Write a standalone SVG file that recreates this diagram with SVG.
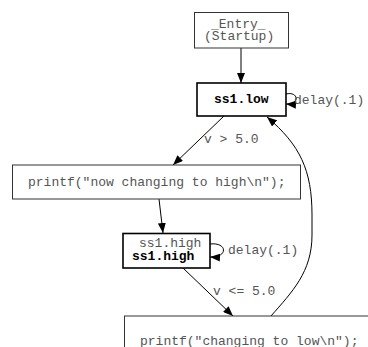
<svg xmlns="http://www.w3.org/2000/svg" width="368" height="347" viewBox="0 0 368 347">
<defs>
<marker id="ah" markerWidth="10" markerHeight="8" refX="10" refY="4" orient="auto" markerUnits="userSpaceOnUse"><path d="M0,0 L10,4 L0,8 z" fill="#000"/></marker>
<style>
.t{font-family:"Liberation Mono","Courier New",monospace;font-size:13px;fill:#555}
.b{font-family:"Liberation Mono","Courier New",monospace;font-size:13px;font-weight:bold;fill:#000}
.box{fill:#fff;stroke:#333;stroke-width:1}
.st{fill:#fff;stroke:#000;stroke-width:1.6}
.e{fill:none;stroke:#000;stroke-width:1;marker-end:url(#ah)}
</style>
</defs>
<rect width="368" height="347" fill="#fff"/>
<g id="edges">
<path class="e" d="M241,48 L241,83"/>
<path class="e" d="M224,116 L173,165"/>
<path class="e" d="M159,199 L163,233"/>
<path class="e" d="M183,268 L233,316"/>
<path class="e" d="M271,316 C292,292 312,272 312,235 L312,215 C312,170 300,145 267,117"/>
<path class="e" d="M286,94 C299,91 300,105 286,104"/>
<path class="e" d="M210,244 C228,242 228,258 210,257"/>
<text class="t" x="294" y="104">delay(.1)</text>
<text class="t" x="228" y="254">delay(.1)</text>
<text class="t" x="204" y="143">v &gt; 5.0</text>
<text class="t" x="213" y="295">v &lt;= 5.0</text>
</g>
<g id="entry">
<rect class="box" x="194.5" y="12.5" width="94" height="35.5"/>
<text class="t" x="211" y="28">_Entry_</text>
<text class="t" x="204" y="40">(Startup)</text>
</g>
<g id="ss1low">
<rect class="st" x="197" y="83" width="89" height="33"/>
<text class="b" x="214" y="103">ss1.low</text>
</g>
<g id="printf1">
<rect class="box" x="12.5" y="165" width="288" height="34"/>
<text class="t" x="28" y="186">printf("now changing to high\n");</text>
</g>
<g id="ss1high">
<rect class="st" x="123" y="233.5" width="87" height="34.5"/>
<text class="t" x="139" y="247">ss1.high</text>
<text class="b" x="132" y="260">ss1.high</text>
</g>
<g id="printf2">
<rect class="box" x="124.5" y="316" width="260" height="50"/>
<text class="t" x="140" y="345">printf("changing to low\n");</text>
</g>
</svg>
